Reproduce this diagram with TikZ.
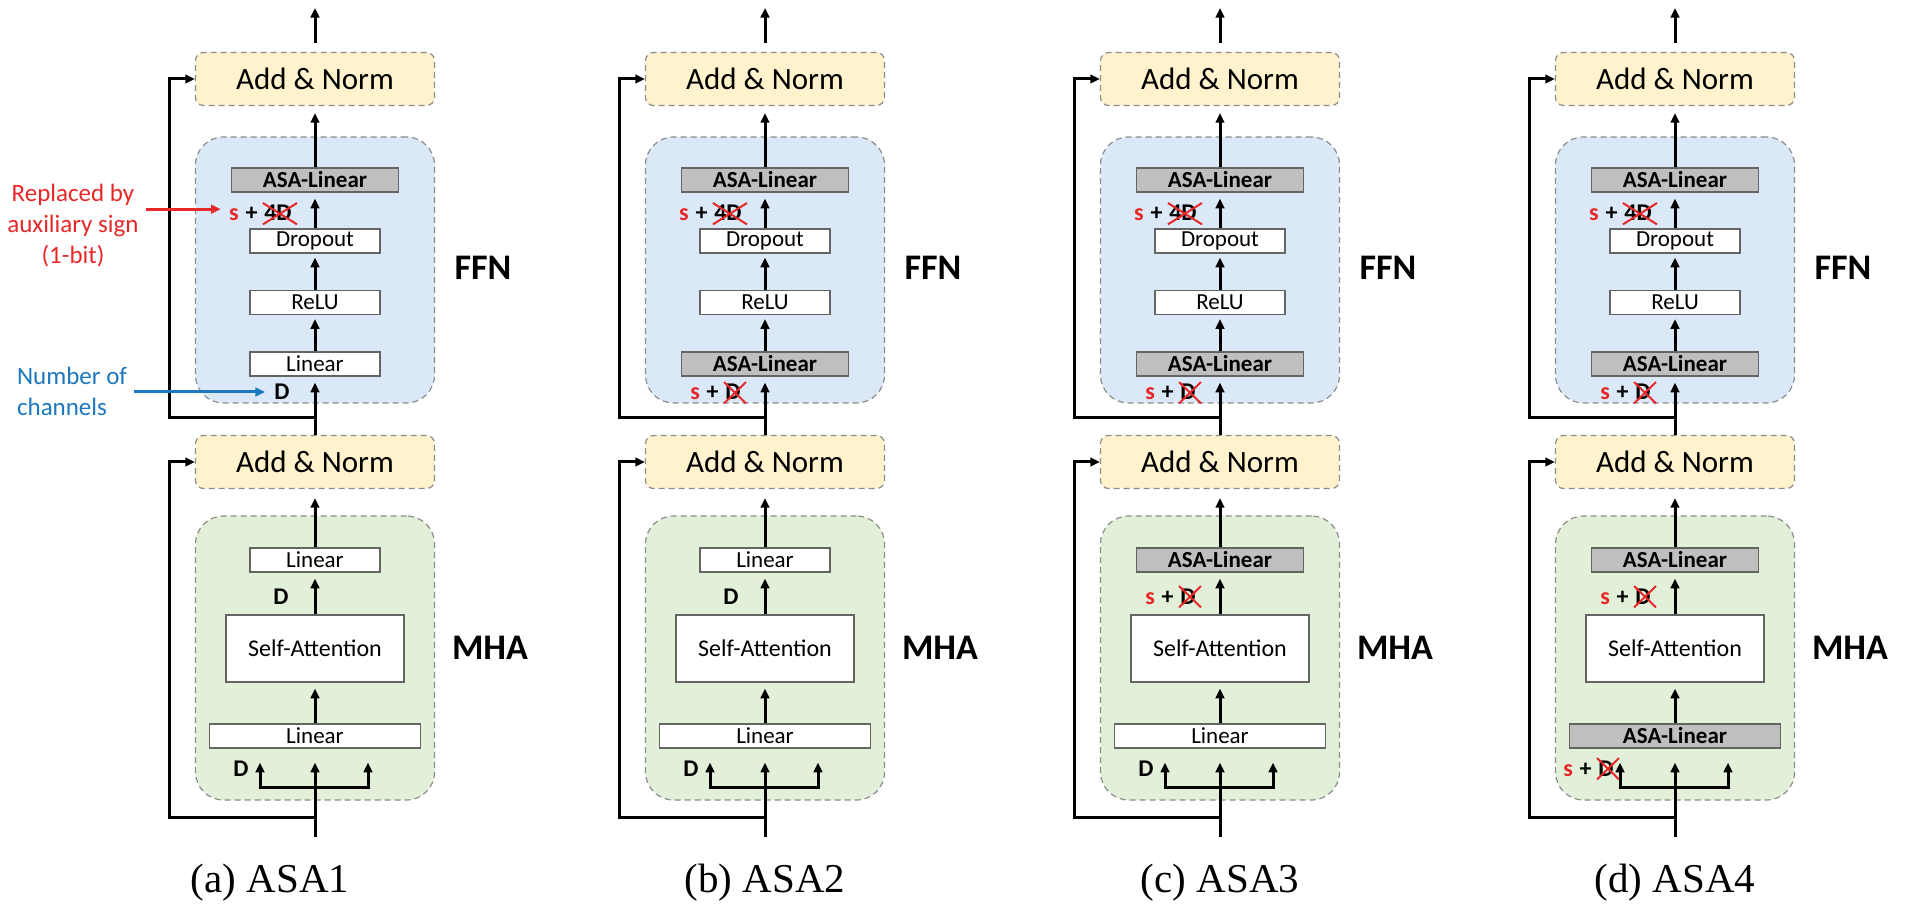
\documentclass[tikz,border=0pt]{standalone}
\usepackage{fontspec}
\setmainfont{Carlito}
\newfontfamily\capfont{Liberation Serif}
\usetikzlibrary{arrows.meta,calc}

\definecolor{normfill}{RGB}{255,242,204}
\definecolor{ffnfill}{RGB}{218,232,247}
\definecolor{mhafill}{RGB}{226,240,217}
\definecolor{dashgray}{RGB}{140,140,140}
\definecolor{boxedge}{RGB}{100,100,100}
\definecolor{asafill}{RGB}{191,191,191}
\definecolor{annred}{RGB}{232,40,40}
\definecolor{annblue}{RGB}{30,120,190}

\tikzset{
  dashbox/.style={draw=dashgray, line width=0.6pt, dash pattern=on 3pt off 2pt},
  normbox/.style={dashbox, fill=normfill, rounded corners=4pt, minimum height=26.5pt,
    inner sep=0pt, font=\fontsize{15.5}{18}\selectfont},
  ffnbg/.style={dashbox, fill=ffnfill, rounded corners=14pt, inner sep=0pt},
  mhabg/.style={dashbox, fill=mhafill, rounded corners=14pt, inner sep=0pt},
  plainbox/.style={draw=boxedge, fill=white, line width=0.7pt, minimum height=12pt,
    inner sep=0pt, font=\fontsize{11.5}{13}\selectfont},
  asabox/.style={plainbox, fill=asafill, font=\fontsize{11.5}{13}\selectfont\bfseries},
  tip/.style={Triangle[length=4.8pt,width=4.3pt]},
  flow/.style={line width=1.5pt, -{Triangle[length=4.8pt,width=4.3pt]}, shorten >=2pt},
  dimlbl/.style={inner sep=0pt, font=\fontsize{12}{14}\selectfont\bfseries},
  cross/.style={draw=annred, line width=1pt},
  partlbl/.style={inner sep=0pt, font=\fontsize{18}{21}\selectfont\bfseries},
  caption/.style={inner sep=0pt, font=\capfont\fontsize{20.5}{24}\selectfont},
  note/.style={font=\fontsize{12.5}{15.5}\selectfont},
}

% "s + <crossed>" width label: #1 name, #2 x of right end, #3 baseline y, #4 crossed text
\newcommand\signlbl[4]{%
  \node[dimlbl, anchor=base east] (#1v) at (#2, #3) {#4};
  \node[dimlbl, anchor=base east] (#1p) at ([xshift=-3pt]#1v.base west) {+};
  \node[dimlbl, anchor=base east, text=annred] (#1s) at ([xshift=-3pt]#1p.base west) {s};
  \draw[cross] ([xshift=-0.5pt,yshift=-1.5pt]#1v.south west) -- ([xshift=2.5pt,yshift=1pt]#1v.north east);
  \draw[cross] ([xshift=-0.5pt,yshift=1pt]#1v.north west) -- ([xshift=2.5pt,yshift=-1.5pt]#1v.south east);
}

% one encoder layer: #1 prefix, #2 centre x,
% #3 FFN first linear is ASA, #4 MHA output linear is ASA, #5 MHA input linear is ASA
\newcommand\drawpanel[5]{%
  \node[ffnbg, minimum width=119.5pt, minimum height=133pt] (#1ffn) at (#2, 270) {};
  \node[mhabg, minimum width=119.5pt, minimum height=142pt] (#1mha) at (#2, 658) {};
  \node[normbox, minimum width=119.5pt] (#1an2) at (#2, 79) {Add \& Norm};
  \node[normbox, minimum width=119.5pt] (#1an1) at (#2, 462) {Add \& Norm};
  % FFN
  \node[asabox, minimum width=83.5pt] (#1f3) at (#2, 180) {ASA-Linear};
  \node[plainbox, minimum width=65pt] (#1drop) at (#2, 241) {Dropout};
  \node[plainbox, minimum width=65pt] (#1relu) at (#2, 302.5) {ReLU};
  \ifnum#3=1
    \node[asabox, minimum width=83.5pt] (#1f1) at (#2, 364) {ASA-Linear};
    \signlbl{#1fl}{{#2-24}}{400}{D}
  \else
    \node[plainbox, minimum width=65pt] (#1f1) at (#2, 364) {Linear};
    \node[dimlbl] (#1fd) at ({#2-33}, 392) {D};
  \fi
  \signlbl{#1ft}{{#2-23}}{221}{4D}
  % MHA
  \ifnum#4=1
    \node[asabox, minimum width=83.5pt] (#1m3) at (#2, 560) {ASA-Linear};
    \signlbl{#1mt}{{#2-24}}{604}{D}
  \else
    \node[plainbox, minimum width=65pt] (#1m3) at (#2, 560) {Linear};
    \node[dimlbl] (#1md) at ({#2-34}, 597) {D};
  \fi
  \node[plainbox, minimum width=89pt, minimum height=33.5pt,
        font=\fontsize{12}{14}\selectfont] (#1sa) at (#2, 648.5) {Self-Attention};
  \ifnum#5=1
    \node[asabox, minimum width=105.5pt] (#1m1) at (#2, 736) {ASA-Linear};
    \signlbl{#1mb}{{#2-61}}{776}{D}
  \else
    \node[plainbox, minimum width=105.5pt] (#1m1) at (#2, 736) {Linear};
    \node[dimlbl] (#1bd) at ({#2-74}, 769) {D};
  \fi
  % block names
  \node[partlbl] (#1fn) at ({#2+168}, 268) {FFN};
  \node[partlbl] (#1mn) at ({#2+175}, 648) {MHA};
  % data flow
  \coordinate (#1out) at (#2, 8);
  \draw[flow, shorten <=4.5pt, shorten >=0pt] (#1an2.north) -- (#1out);
  \draw[flow, shorten >=3.5pt] (#1f3.north) -- (#1an2.south);
  \draw[flow, shorten >=3pt] (#1drop.north) -- (#1f3.south);
  \draw[flow] (#1relu.north) -- (#1drop.south);
  \draw[flow] (#1f1.north) -- (#1relu.south);
  \draw[flow, shorten >=3pt] (#1an1.north) -- (#1f1.south);
  \draw[flow, shorten >=4.5pt] (#1m3.north) -- (#1an1.south);
  \draw[flow, shorten >=3pt] (#1sa.north) -- (#1m3.south);
  \draw[flow, shorten >=3pt] (#1m1.north) -- (#1sa.south);
  \coordinate (#1in) at (#2, 837);
  \draw[flow, shorten >=7pt] (#1in) -- (#1m1.south);
  \coordinate (#1bl) at ({#2-55}, 787);
  \coordinate (#1br) at ({#2+53}, 787);
  \draw[line width=1.5pt, {Triangle[length=4.8pt,width=4.3pt]}-{Triangle[length=4.8pt,width=4.3pt]},
        shorten <=7pt, shorten >=7pt]
    (#1bl |- #1m1.south) -- (#1bl) -- (#1br) -- (#1br |- #1m1.south);
  % residual paths
  \coordinate (#1j1) at (#2, 817);
  \coordinate (#1k1) at ({#2-146}, 817);
  \draw[flow, shorten >=0pt] (#1j1) -- (#1k1) |- (#1an1.west);
  \coordinate (#1j2) at (#2, 418);
  \coordinate (#1k2) at ({#2-146}, 418);
  \draw[flow, shorten >=0pt] (#1j2) -- (#1k2) |- (#1an2.west);
}

\begin{document}
\begin{tikzpicture}[x=0.5pt, y=-0.5pt]
  \fill[white] (0,0) rectangle (1910,908);
  \useasboundingbox (0,0) rectangle (1910,908);

  \drawpanel{a}{315}{0}{0}{0}
  \drawpanel{b}{765}{1}{0}{0}
  \drawpanel{c}{1220}{1}{1}{0}
  \drawpanel{d}{1675}{1}{1}{1}

  \node[caption] (capa) at (270, 883) {(a) ASA1};
  \node[caption] (capb) at (765, 883) {(b) ASA2};
  \node[caption] (capc) at (1220, 883) {(c) ASA3};
  \node[caption] (capd) at (1675, 883) {(d) ASA4};

  % annotations
  \node[note, text=annred, align=center] (rep) at (73, 226) {Replaced by\\auxiliary sign\\(1-bit)};
  \coordinate (redtip) at ([xshift=-4pt, yshift=3pt]afts.west);
  \draw[line width=1.5pt, annred, -{Triangle[length=4.8pt,width=4.3pt]}] (rep.east |- redtip) -- (redtip);
  \node[note, text=annblue, align=left, anchor=west] (num) at (10, 391) {Number of\\channels};
  \draw[line width=1.5pt, annblue, -{Triangle[length=4.8pt,width=4.3pt]}, shorten >=4.5pt]
    (num.east |- afd.west) -- (afd.west);
\end{tikzpicture}
\end{document}
